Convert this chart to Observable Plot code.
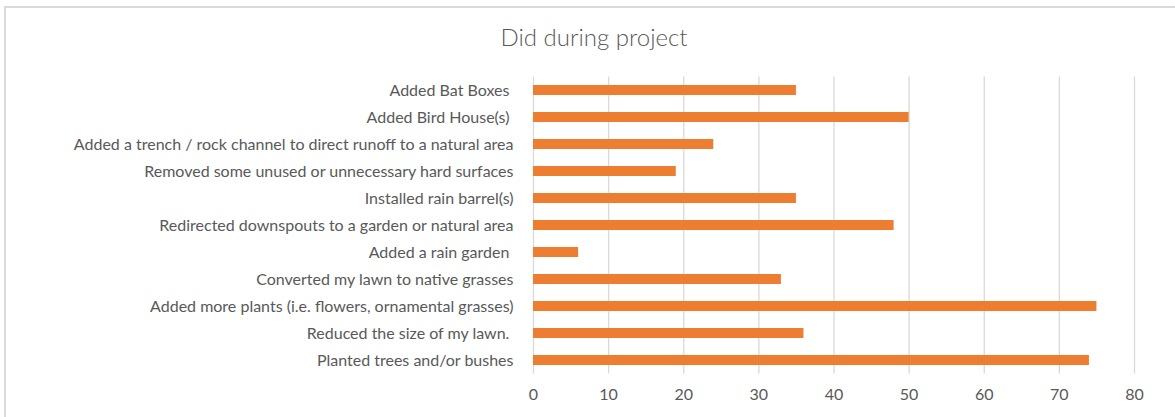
<!DOCTYPE html>
<html>
<head>
<meta charset="utf-8">
<script src="https://cdn.jsdelivr.net/npm/d3@7"></script>
<script src="https://cdn.jsdelivr.net/npm/@observablehq/plot@0.6"></script>
<style>
  html, body { margin: 0; padding: 0; background: #fff; overflow: hidden; }
  #wrap { position: relative; width: 1175px; height: 417px; overflow: hidden; }
  #frame { position: absolute; left: 4px; top: 6px; width: 1250px; height: 500px; border: 2px solid #d9d9d9; box-sizing: border-box; }
  #title { position: absolute; left: 0; top: 22px; width: 1188px; text-align: center; font-family: Lato, sans-serif; font-weight: 300; font-size: 24px; color: #595959; }
  #chart { position: absolute; left: 0; top: 0; }
</style>
</head>
<body>
<div id="wrap">
  <div id="frame"></div>
  <div id="title">Did during project</div>
  <div id="chart"></div>
</div>
<script>
const categories = [
  "Added Bat Boxes ",
  "Added Bird House(s) ",
  "Added a trench / rock channel to direct runoff to a natural area",
  "Removed some unused or unnecessary hard surfaces",
  "Installed rain barrel(s)",
  "Redirected downspouts to a garden or natural area",
  "Added a rain garden ",
  "Converted my lawn to native grasses",
  "Added more plants (i.e. flowers, ornamental grasses)",
  "Reduced the size of my lawn. ",
  "Planted trees and/or bushes"
];
const values = [35, 50, 24, 19, 35, 48, 6, 33, 75, 36, 74];
const xTicks = [0, 10, 20, 30, 40, 50, 60, 70, 80];

const data = categories.map((c, i) => ({category: c, value: values[i]}));

const chart = Plot.plot({
  width: 1175,
  height: 417,
  marginLeft: 533,
  marginRight: 41,
  marginTop: 76.5,
  marginBottom: 43.5,
  style: { fontFamily: "Lato, sans-serif", fontSize: "16px", color: "#595959", background: "transparent" },
  x: { domain: [0, 80], ticks: xTicks, label: null, tickSize: 0, tickPadding: 15 },
  y: { domain: categories, label: null, paddingInner: 0.62, paddingOuter: 0.31, tickSize: 0, tickPadding: 20,
       tickFormat: d => d.replace(/ $/, "\u00a0") },
  marks: [
    Plot.gridX(xTicks, { stroke: "#d9d9d9", strokeOpacity: 1, strokeWidth: 1.3 }),
    Plot.barX(data, { x: "value", y: "category", fill: "#ED7D31" })
  ]
});
document.getElementById("chart").appendChild(chart);
</script>
</body>
</html>
